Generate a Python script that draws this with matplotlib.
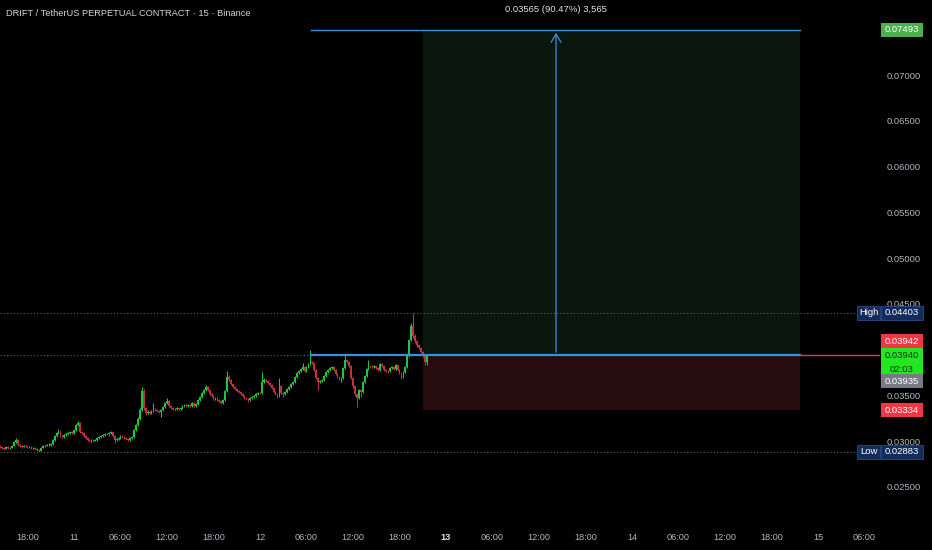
import matplotlib
matplotlib.use('Agg')
import matplotlib.pyplot as plt
from matplotlib.patches import Rectangle
import numpy as np

plt.rcParams['font.family'] = ['Liberation Sans', 'DejaVu Sans']

W, H = 932, 550

# ---- data: 15-minute candles, first one at day-10 14:30 ----
start_hour = 14.5
step_hours = 0.25
first_open = 0.02946
closes = [
0.02935, 0.02924, 0.02913, 0.02935, 0.02924, 0.02924, 0.02946, 0.02990, 0.03011, 0.02957,
0.02946, 0.02935, 0.02946, 0.02941, 0.02930, 0.02937, 0.02924, 0.02924, 0.02913, 0.02902,
0.02891, 0.02924, 0.02946, 0.02950, 0.02957, 0.02960, 0.02968, 0.03011, 0.03055, 0.03088,
0.03110, 0.03055, 0.03044, 0.03066, 0.03077, 0.03088, 0.03099, 0.03088, 0.03121, 0.03175,
0.03197, 0.03099, 0.03088, 0.03055, 0.03033, 0.03011, 0.03000, 0.03011, 0.03000, 0.03011,
0.03033, 0.03044, 0.03055, 0.03066, 0.03077, 0.03072, 0.03088, 0.03099, 0.03055, 0.03011,
0.03022, 0.03033, 0.03055, 0.03044, 0.03033, 0.03022, 0.03011, 0.03033, 0.03044, 0.03121,
0.03175, 0.03241, 0.03339, 0.03547, 0.03361, 0.03306, 0.03317, 0.03306, 0.03328, 0.03350,
0.03339, 0.03328, 0.03317, 0.03339, 0.03372, 0.03416, 0.03438, 0.03383, 0.03361, 0.03350,
0.03350, 0.03361, 0.03350, 0.03361, 0.03383, 0.03394, 0.03383, 0.03394, 0.03383, 0.03416,
0.03383, 0.03405, 0.03449, 0.03481, 0.03525, 0.03558, 0.03591, 0.03558, 0.03514, 0.03492,
0.03459, 0.03470, 0.03449, 0.03438, 0.03416, 0.03449, 0.03547, 0.03700, 0.03667, 0.03623,
0.03591, 0.03569, 0.03547, 0.03536, 0.03514, 0.03492, 0.03470, 0.03459, 0.03449, 0.03470,
0.03481, 0.03492, 0.03514, 0.03525, 0.03520, 0.03645, 0.03667, 0.03656, 0.03634, 0.03612,
0.03580, 0.03536, 0.03514, 0.03492, 0.03602, 0.03525, 0.03514, 0.03536, 0.03569, 0.03591,
0.03623, 0.03645, 0.03700, 0.03744, 0.03766, 0.03787, 0.03809, 0.03766, 0.03809, 0.03842,
0.03864, 0.03853, 0.03776, 0.03689, 0.03645, 0.03656, 0.03667, 0.03711, 0.03755, 0.03776,
0.03798, 0.03809, 0.03776, 0.03733, 0.03700, 0.03678, 0.03689, 0.03798, 0.03886, 0.03864,
0.03820, 0.03689, 0.03602, 0.03514, 0.03470, 0.03558, 0.03536, 0.03645, 0.03711, 0.03787,
0.03820, 0.03815, 0.03809, 0.03820, 0.03798, 0.03776, 0.03842, 0.03820, 0.03776, 0.03766,
0.03760, 0.03798, 0.03809, 0.03787, 0.03831, 0.03776, 0.03744, 0.03700, 0.03755, 0.03809,
0.03929, 0.04104, 0.04257, 0.04148, 0.04093, 0.04050, 0.04017, 0.03973, 0.03942, 0.03864,
0.03940]
highs = [
0.02957, 0.02946, 0.02930, 0.02946, 0.02941, 0.02935, 0.02957, 0.03000, 0.03033, 0.03017,
0.02968, 0.02957, 0.02957, 0.02957, 0.02946, 0.02946, 0.02941, 0.02935, 0.02930, 0.02919,
0.02913, 0.02930, 0.02957, 0.02962, 0.02968, 0.02973, 0.02979, 0.03022, 0.03066, 0.03099,
0.03132, 0.03115, 0.03066, 0.03077, 0.03088, 0.03099, 0.03110, 0.03110, 0.03132, 0.03186,
0.03219, 0.03203, 0.03110, 0.03094, 0.03066, 0.03044, 0.03022, 0.03022, 0.03017, 0.03022,
0.03044, 0.03055, 0.03066, 0.03077, 0.03088, 0.03088, 0.03099, 0.03115, 0.03104, 0.03066,
0.03033, 0.03044, 0.03066, 0.03066, 0.03055, 0.03044, 0.03033, 0.03044, 0.03055, 0.03132,
0.03186, 0.03263, 0.03361, 0.03591, 0.03569, 0.03372, 0.03339, 0.03328, 0.03339, 0.03416,
0.03361, 0.03350, 0.03339, 0.03350, 0.03383, 0.03427, 0.03470, 0.03449, 0.03394, 0.03372,
0.03361, 0.03372, 0.03372, 0.03372, 0.03394, 0.03405, 0.03405, 0.03405, 0.03405, 0.03427,
0.03427, 0.03416, 0.03459, 0.03492, 0.03536, 0.03569, 0.03613, 0.03602, 0.03569, 0.03525,
0.03503, 0.03481, 0.03481, 0.03459, 0.03449, 0.03459, 0.03558, 0.03766, 0.03722, 0.03678,
0.03634, 0.03602, 0.03580, 0.03558, 0.03547, 0.03525, 0.03503, 0.03481, 0.03470, 0.03481,
0.03492, 0.03503, 0.03525, 0.03536, 0.03536, 0.03755, 0.03689, 0.03678, 0.03667, 0.03645,
0.03623, 0.03591, 0.03547, 0.03525, 0.03689, 0.03613, 0.03536, 0.03547, 0.03580, 0.03602,
0.03634, 0.03656, 0.03711, 0.03755, 0.03777, 0.03798, 0.03853, 0.03820, 0.03820, 0.03853,
0.03995, 0.03875, 0.03864, 0.03787, 0.03700, 0.03667, 0.03678, 0.03722, 0.03766, 0.03787,
0.03809, 0.03820, 0.03820, 0.03787, 0.03744, 0.03711, 0.03700, 0.03809, 0.03951, 0.03897,
0.03875, 0.03831, 0.03700, 0.03613, 0.03525, 0.03569, 0.03569, 0.03656, 0.03722, 0.03798,
0.03886, 0.03831, 0.03831, 0.03831, 0.03831, 0.03809, 0.03853, 0.03853, 0.03831, 0.03787,
0.03776, 0.03809, 0.03820, 0.03820, 0.03842, 0.03842, 0.03787, 0.03755, 0.03766, 0.03820,
0.03940, 0.04115, 0.04290, 0.04403, 0.04170, 0.04104, 0.04061, 0.04028, 0.03984, 0.03951,
0.03951]
lows = [
0.02924, 0.02913, 0.02902, 0.02908, 0.02913, 0.02913, 0.02919, 0.02941, 0.02979, 0.02946,
0.02935, 0.02924, 0.02930, 0.02930, 0.02919, 0.02919, 0.02913, 0.02908, 0.02902, 0.02891,
0.02883, 0.02886, 0.02919, 0.02935, 0.02941, 0.02946, 0.02950, 0.02962, 0.03000, 0.03044,
0.03077, 0.03044, 0.03033, 0.03033, 0.03055, 0.03066, 0.03077, 0.03077, 0.03077, 0.03110,
0.03164, 0.03088, 0.03072, 0.03044, 0.03022, 0.03000, 0.02990, 0.02990, 0.02990, 0.02995,
0.03000, 0.03022, 0.03033, 0.03044, 0.03055, 0.03061, 0.03066, 0.03077, 0.03044, 0.02979,
0.03000, 0.03011, 0.03022, 0.03033, 0.03022, 0.03011, 0.03000, 0.03000, 0.03022, 0.03033,
0.03110, 0.03164, 0.03230, 0.03328, 0.03339, 0.03285, 0.03295, 0.03295, 0.03295, 0.03317,
0.03328, 0.03317, 0.03306, 0.03263, 0.03328, 0.03361, 0.03405, 0.03372, 0.03350, 0.03339,
0.03339, 0.03339, 0.03339, 0.03339, 0.03350, 0.03372, 0.03372, 0.03372, 0.03372, 0.03372,
0.03372, 0.03372, 0.03394, 0.03438, 0.03470, 0.03514, 0.03547, 0.03547, 0.03503, 0.03481,
0.03449, 0.03449, 0.03438, 0.03427, 0.03405, 0.03405, 0.03438, 0.03536, 0.03656, 0.03612,
0.03580, 0.03558, 0.03536, 0.03525, 0.03503, 0.03481, 0.03459, 0.03449, 0.03427, 0.03438,
0.03459, 0.03470, 0.03481, 0.03503, 0.03509, 0.03509, 0.03634, 0.03645, 0.03623, 0.03602,
0.03569, 0.03525, 0.03503, 0.03470, 0.03481, 0.03514, 0.03481, 0.03503, 0.03525, 0.03558,
0.03580, 0.03612, 0.03634, 0.03689, 0.03733, 0.03755, 0.03776, 0.03755, 0.03755, 0.03798,
0.03831, 0.03842, 0.03766, 0.03678, 0.03558, 0.03634, 0.03645, 0.03656, 0.03700, 0.03744,
0.03766, 0.03787, 0.03766, 0.03722, 0.03689, 0.03667, 0.03645, 0.03678, 0.03787, 0.03853,
0.03809, 0.03678, 0.03580, 0.03492, 0.03372, 0.03459, 0.03481, 0.03525, 0.03634, 0.03700,
0.03776, 0.03798, 0.03798, 0.03798, 0.03787, 0.03766, 0.03766, 0.03809, 0.03766, 0.03755,
0.03744, 0.03755, 0.03787, 0.03776, 0.03776, 0.03766, 0.03733, 0.03678, 0.03689, 0.03744,
0.03798, 0.03918, 0.04093, 0.04126, 0.04071, 0.04028, 0.04006, 0.03962, 0.03918, 0.03831,
0.03831]

# ---- position tool (long) ----
entry_price = 0.03940
target_price = 0.07493
stop_price = 0.03334
pos_start_h = 69.0
pos_end_h = 117.7
lines_start_h = 54.6
arrow_h = 86.2
measure_text = "0.03565 (90.47%) 3,565"

high_price = 0.04403
low_price = 0.02883
last_price = 0.03940
label_red_price = "0.03942"
label_grey_price = "0.03935"
countdown = "02:03"

price_ticks = [0.025, 0.030, 0.035, 0.045, 0.050, 0.055, 0.060, 0.065, 0.070]
time_ticks_h = [18, 24, 30, 36, 42, 48, 54, 60, 66, 72, 78, 84, 90, 96, 102, 108, 114, 120, 126]
time_labels = ['18:00', '11', '06:00', '12:00', '18:00', '12', '06:00', '12:00', '18:00',
               '13', '06:00', '12:00', '18:00', '14', '06:00', '12:00', '18:00', '15', '06:00']
title = "DRIFT / TetherUS PERPETUAL CONTRACT · 15 · Binance"

# ---- styles ----
BG = '#000000'
UP = '#1ec83a'
DN = '#c3303f'
BLUE = '#3d8fd8'
TXT = '#b2b5be'

opens = [first_open] + closes[:-1]
times = start_hour + step_hours * np.arange(len(closes))
o = np.array(opens); c = np.array(closes)
hi = np.array(highs); lo = np.array(lows)
up = c >= o
cols = np.where(up, UP, DN)

fig = plt.figure(figsize=(W / 100, H / 100), dpi=100, facecolor=BG)
ax = fig.add_axes([0, 28 / H, 880 / W, 522 / H])
ax.set_facecolor(BG)
ax.set_xlim(14.452, 128.0)
ax.set_ylim(0.02115, 0.07820)
for s in ax.spines.values():
    s.set_visible(False)

# position zones
ax.add_patch(Rectangle((pos_start_h, entry_price), pos_end_h - pos_start_h,
                       target_price - entry_price, facecolor='#0a170e', edgecolor='none', zorder=0))
ax.add_patch(Rectangle((pos_start_h, stop_price), pos_end_h - pos_start_h,
                       entry_price - stop_price, facecolor='#260c0e', edgecolor='none', zorder=0))

# dotted reference lines
ax.axhline(high_price, xmax=857 / 880, color='#5d606b', lw=0.8, ls=(0, (1, 2)), zorder=1)
ax.axhline(low_price, xmax=857 / 880, color='#5d606b', lw=0.8, ls=(0, (1, 2)), zorder=1)
ax.plot([14.452, lines_start_h], [last_price, last_price], color='#2f7a40', lw=0.8,
        ls=(0, (1, 2)), zorder=1)

# candles
body_bottom = np.minimum(o, c)
body_h = np.maximum(np.abs(c - o), 0.00005)
ax.vlines(times, lo, hi, colors=cols, lw=0.75, zorder=3)
ax.bar(times, body_h, bottom=body_bottom, width=0.21, color=cols, linewidth=0, zorder=3)

# position lines
ax.plot([lines_start_h, pos_end_h], [target_price, target_price], color=BLUE, lw=1.0, zorder=4)
ax.plot([lines_start_h, pos_end_h], [entry_price, entry_price], color=BLUE, lw=1.6, zorder=4)
ax.plot([pos_end_h, 128.0], [last_price, last_price], color='#f23645', lw=1.0, zorder=4)
ax.annotate('', xy=(arrow_h, target_price), xytext=(arrow_h, entry_price),
            arrowprops=dict(arrowstyle='->,head_length=0.6,head_width=0.35', color=BLUE, lw=0.9),
            zorder=5)
ax.annotate(measure_text, xy=(arrow_h, target_price), xytext=(0, 14.4),
            textcoords='offset points', ha='center', va='center', fontsize=6.8,
            color='#e0e3eb')

# axes ticks
ax.yaxis.tick_right()
ax.set_yticks(price_ticks)
ax.set_yticklabels(['%.5f' % p for p in price_ticks])
ax.tick_params(axis='y', length=0, pad=5, labelsize=6.8, labelcolor=TXT)
ax.set_xticks(time_ticks_h)
ax.set_xticklabels(time_labels)
ax.tick_params(axis='x', length=0, pad=8, labelsize=6.6, labelcolor=TXT)
for lab in ax.get_xticklabels():
    if lab.get_text() == '13':
        lab.set_fontweight('bold')
        lab.set_color('#e0e3eb')

fig.text(6 / W, 1 - 13 / H, title, fontsize=6.7, color='#d1d4dc', va='center', ha='left')

fig.canvas.draw()


def ypx(price):
    return H - ax.transData.transform((0, price))[1]


def box(x0, x1, yc, h, fc, text, tc, ec=None, fs=6.8):
    fig.add_artist(Rectangle((x0 / W, 1 - (yc + h / 2) / H), (x1 - x0) / W, h / H,
                             transform=fig.transFigure, facecolor=fc,
                             edgecolor=ec if ec else 'none', lw=0.6, zorder=6))
    fig.text((x0 + x1) / 2 / W, 1 - yc / H, text, ha='center', va='center',
             fontsize=fs, color=tc, zorder=7)


NAVY = '#142c5c'
box(881, 923, ypx(target_price), 14, '#4caf50', '%.5f' % target_price, 'white')
box(857, 880, ypx(high_price), 14, NAVY, 'High', 'white', ec='#2a4a85')
box(881, 923, ypx(high_price), 14, NAVY, '%.5f' % high_price, 'white', ec='#2a4a85')
box(881, 923, ypx(last_price) - 14, 14, '#f23645', label_red_price, 'white')
box(881, 923, ypx(last_price) + 7, 28, '#22e622', '', 'black')
fig.text(902 / W, 1 - (ypx(last_price)) / H, '%.5f' % last_price, ha='center',
         va='center', fontsize=6.8, color='#0a3a0a', zorder=7)
fig.text(902 / W, 1 - (ypx(last_price) + 14) / H, countdown, ha='center',
         va='center', fontsize=6.8, color='#0a3a0a', zorder=7)
box(881, 923, ypx(last_price) + 26, 14, '#787b86', label_grey_price, 'white')
box(881, 923, ypx(stop_price), 14, '#f23645', '%.5f' % stop_price, 'white')
box(857, 880, ypx(low_price), 14, NAVY, 'Low', 'white', ec='#2a4a85')
box(881, 923, ypx(low_price), 14, NAVY, '%.5f' % low_price, 'white', ec='#2a4a85')

fig.savefig('out.png', dpi=100, facecolor=BG)
